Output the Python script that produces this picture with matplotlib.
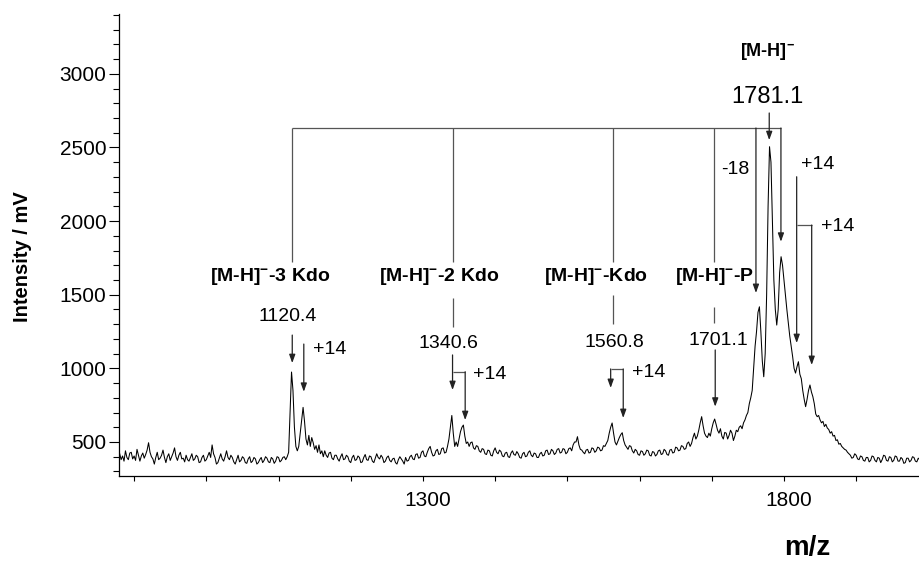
import matplotlib
matplotlib.use('Agg')
import matplotlib.pyplot as plt
from matplotlib.transforms import ScaledTranslation
import numpy as np

plt.rcParams['font.family'] = ['Liberation Sans', 'DejaVu Sans']
plt.rcParams['mathtext.fontset'] = 'custom'
plt.rcParams['mathtext.rm'] = 'Liberation Sans'
plt.rcParams['mathtext.bf'] = 'Liberation Sans:bold'
plt.rcParams['mathtext.default'] = 'bf'

# ---------------- data (m/z from 880 in steps of 2) ----------------
mz_start = 880
mz_step = 2
intensity = [
    # 880 - 978
    420, 380, 405, 370, 440, 395, 380, 425, 430, 385,
    405, 375, 450, 410, 370, 405, 425, 390, 415, 445,
    495, 430, 400, 385, 350, 395, 430, 380, 390, 410,
    445, 395, 360, 400, 420, 375, 400, 425, 460, 400,
    375, 410, 430, 385, 390, 365, 410, 380, 370, 395,
    # 980 - 1078
    420, 375, 385, 410, 400, 360, 365, 395, 410, 370,
    380, 405, 430, 395, 480, 420, 395, 350, 360, 390,
    420, 385, 370, 400, 440, 395, 380, 410, 395, 365,
    350, 380, 410, 365, 375, 400, 390, 360, 355, 385,
    400, 360, 370, 395, 385, 350, 360, 380, 395, 360,
    # 1080 - 1178
    375, 400, 390, 365, 360, 395, 385, 355, 370, 400,
    395, 365, 375, 395, 400, 380, 400, 430, 700, 975,
    850, 600, 470, 440, 470, 560, 650, 735, 640, 520,
    480, 545, 470, 530, 495, 450, 475, 430, 480, 420,
    440, 400, 440, 410, 395, 425, 430, 390, 380, 410,
    # 1180 - 1278
    410, 385, 370, 400, 420, 380, 385, 410, 400, 370,
    360, 395, 410, 375, 380, 405, 395, 360, 365, 395,
    415, 380, 375, 405, 400, 370, 360, 390, 420, 395,
    385, 410, 395, 360, 370, 395, 405, 375, 365, 385,
    390, 360, 350, 380, 400, 385, 370, 350, 395, 370,
    # 1280 - 1378
    375, 400, 410, 385, 380, 415, 420, 390, 395, 430,
    440, 405, 400, 430, 455, 470, 430, 405, 410, 440,
    450, 415, 420, 455, 460, 425, 430, 470, 520, 600,
    680, 560, 470, 500, 470, 520, 570, 600, 615, 540,
    490, 500, 470, 495, 500, 460, 450, 475, 470, 440,
    # 1380 - 1478
    430, 455, 450, 420, 415, 445, 440, 410, 405, 440,
    460, 430, 420, 445, 435, 405, 400, 425, 430, 400,
    395, 425, 440, 415, 410, 435, 420, 395, 390, 420,
    430, 400, 405, 430, 440, 410, 400, 425, 420, 395,
    395, 420, 430, 405, 410, 440, 445, 415, 420, 450,
    # 1480 - 1578
    440, 415, 425, 450, 455, 425, 430, 455, 450, 420,
    430, 455, 460, 440, 480, 500, 500, 536, 480, 450,
    445, 430, 420, 445, 450, 425, 430, 460, 455, 430,
    440, 465, 460, 440, 445, 475, 470, 490, 510, 560,
    600, 629, 560, 500, 480, 505, 530, 550, 563, 510,
    # 1580 - 1678
    480, 465, 450, 475, 470, 440, 425, 450, 440, 415,
    410, 440, 435, 410, 420, 445, 440, 410, 405, 435,
    430, 405, 415, 440, 445, 415, 420, 450, 440, 415,
    410, 445, 450, 425, 430, 465, 460, 440, 445, 475,
    470, 450, 455, 490, 500, 470, 490, 530, 560, 520,
    # 1680 - 1778
    540, 580, 630, 672, 610, 560, 540, 530, 560, 540,
    590, 630, 656, 620, 580, 560, 590, 540, 520, 565,
    560, 520, 545, 580, 560, 510, 540, 580, 570, 600,
    610, 590, 630, 650, 680, 700, 760, 800, 850, 1000,
    1150, 1250, 1380, 1418, 1250, 1050, 943, 1100, 1500, 2100,
    # 1780 - 1878
    2505, 2400, 2000, 1600, 1400, 1294, 1400, 1650, 1758, 1700,
    1600, 1500, 1400, 1308, 1220, 1150, 1080, 1000, 968, 1010,
    1045, 960, 930, 850, 790, 740, 790, 850, 887, 840,
    808, 760, 690, 672, 680, 650, 630, 640, 605, 620,
    595, 585, 560, 570, 540, 545, 510, 515, 485, 490,
    # 1880 - 1988
    470, 460, 450, 445, 430, 420, 410, 390, 395, 420,
    410, 385, 380, 405, 400, 375, 370, 395, 395, 365,
    375, 405, 400, 375, 365, 395, 390, 360, 380, 410,
    405, 375, 370, 400, 395, 365, 375, 405, 400, 370,
    370, 395, 385, 355, 360, 390, 390, 365, 375, 400,
    395, 370, 365, 390, 380,
]
mz = mz_start + mz_step * np.arange(len(intensity))

x_major = [1300, 1800]
x_minor = list(range(900, 1901, 100))
y_major = [500, 1000, 1500, 2000, 2500, 3000]
y_minor = list(range(300, 3401, 100))

ION = r'[M-H]$^{\mathbf{-}}$'

# ---------------- figure ----------------
fig = plt.figure(figsize=(9.2, 5.61), dpi=100)
ax = fig.add_axes([0.1293, 0.1515, 0.8707, 0.8235])
ax.plot(mz, intensity, color='black', lw=0.75)

ax.set_xlim(879, 1988.4)
ax.set_ylim(269, 3406)
for s in ['top', 'right']:
    ax.spines[s].set_visible(False)
for s in ['left', 'bottom']:
    ax.spines[s].set_linewidth(0.9)

ax.set_xticks(x_major)
ax.set_xticks(x_minor, minor=True)
ax.set_yticks(y_major)
ax.set_yticks(y_minor, minor=True)
ax.tick_params(axis='y', which='major', length=7, width=0.8, labelsize=15, pad=2)
ax.tick_params(axis='y', which='minor', length=4.3, width=0.8)
ax.tick_params(axis='x', which='both', length=3.5, width=0.8, labelsize=15, pad=7)
for lbl in ax.get_xticklabels():
    lbl.set_transform(lbl.get_transform() + ScaledTranslation(0.05, 0, fig.dpi_scale_trans))

fig.text(23 / 920, 1 - 257 / 561, 'Intensity / mV', rotation=90, ha='center', va='center',
         fontsize=14.5, fontweight='bold')
fig.text(807 / 920, 1 - 548 / 561, 'm/z', ha='center', va='center', fontsize=20, fontweight='bold')

# ---------------- annotations ----------------
LC = '#555555'
LW = 0.9


def seg(x1, y1, x2, y2):
    ax.plot([x1, x2], [y1, y2], color=LC, lw=LW, solid_capstyle='butt', clip_on=False)


def arrow(x, y_from, y_to):
    ax.annotate('', xy=(x, y_to), xytext=(x, y_from),
                arrowprops=dict(arrowstyle='-|>,head_length=0.5,head_width=0.18', color='#222222',
                                lw=LW, shrinkA=0, shrinkB=0), annotation_clip=False)


def label(x, y, s, size=14, bold=False):
    ax.text(x, y, s, ha='center', va='center', fontsize=size,
            fontweight='bold' if bold else 'normal', clip_on=False)


top_y = 2632
# horizontal bracket
seg(1119, top_y, 1795.8, top_y)

# [M-H]- -3 Kdo
seg(1119, top_y, 1119, 1722)
label(1088, 1627, ION + '-3 Kdo', 14, True)
label(1113, 1349, '1120.4')
arrow(1119, 1226, 1036)
label(1171, 1131, '+14')
arrow(1135, 1165, 841)

# [M-H]- -2 Kdo
seg(1341, top_y, 1341, 1722)
label(1323, 1627, ION + '-2 Kdo', 14, True)
seg(1341, 1478, 1341, 1281)
label(1336, 1172, '1340.6')
arrow(1341, 1091, 853)
seg(1341, 977, 1358.5, 977)
arrow(1358.5, 977, 649)
label(1393, 955, '+14')

# [M-H]- -Kdo
seg(1562.7, top_y, 1562.7, 1722)
label(1540, 1627, ION + '-Kdo', 14, True)
seg(1562.7, 1498, 1562.7, 1301)
label(1564.5, 1174, '1560.8')
seg(1560, 996, 1577.4, 996)
arrow(1560, 996, 867)
arrow(1577.4, 996, 663)
label(1612, 970, '+14')

# [M-H]- -P
seg(1703.5, top_y, 1703.5, 1722)
label(1704.4, 1627, ION + '-P', 14, True)
seg(1703.5, 1418, 1703.5, 1308)
label(1708.6, 1192, '1701.1')
arrow(1704.8, 1125, 740)

# -18
arrow(1761.2, top_y, 1512)
label(1732, 2347, '-18')

# [M-H]-
label(1777.8, 3150, ION, 13, True)
label(1777.1, 2844, '1781.1', 17)
arrow(1779.6, 2734, 2550)

# +14 series
arrow(1795.8, top_y, 1860)
label(1847, 2381, '+14')
arrow(1817.6, 2301, 1172)
seg(1817.6, 1973, 1838.4, 1973)
arrow(1838.4, 1973, 1023)
label(1875, 1962, '+14')

fig.savefig('out.png', dpi=100)
